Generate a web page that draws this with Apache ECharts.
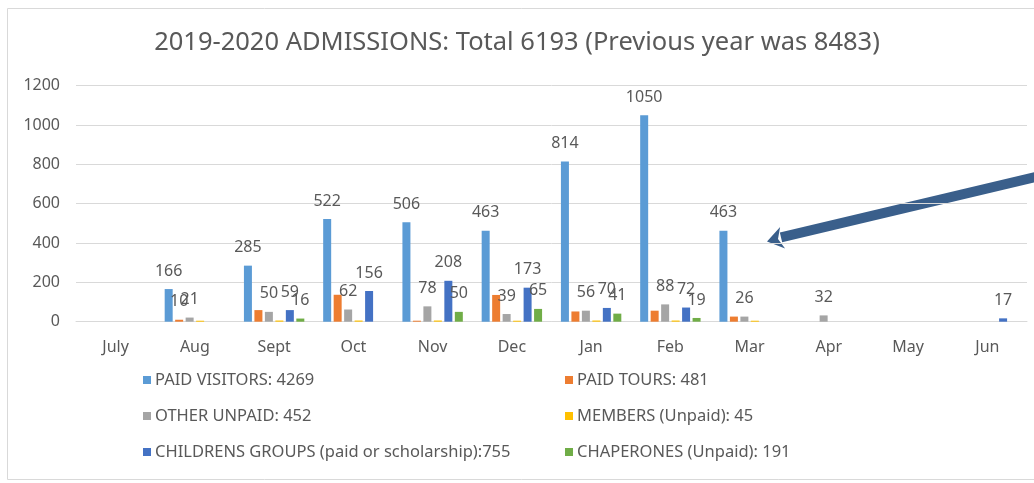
<!DOCTYPE html>
<html>
<head>
<meta charset="utf-8">
<script src="https://cdn.jsdelivr.net/npm/echarts@6/dist/echarts.min.js"></script>
<style>html,body{margin:0;padding:0;background:#fff}#c{width:1034px;height:483px}</style>
</head>
<body>
<div id="c"></div>
<script>
const title = '2019-2020 ADMISSIONS: Total 6193 (Previous year was 8483)';
const months = ['July','Aug','Sept','Oct','Nov','Dec','Jan','Feb','Mar','Apr','May','Jun'];
const yTicks = [0, 200, 400, 600, 800, 1000, 1200];
const seriesNames = [
  'PAID VISITORS: 4269',
  'PAID TOURS: 481',
  'OTHER UNPAID: 452',
  'MEMBERS (Unpaid): 45',
  'CHILDRENS GROUPS (paid or scholarship):755',
  'CHAPERONES (Unpaid): 191'
];
const paidVisitors = [null,166,285,522,506,463,814,1050,463,null,null,null];
const paidTours    = [null,10,59,137,5,136,52,56,26,null,null,null];
const otherUnpaid  = [null,21,50,62,78,39,56,88,26,32,null,null];
const members      = [null,5,6,6,6,5,6,6,5,null,null,null];
const childrens    = [null,null,59,156,208,173,70,72,null,null,null,17];
const chaperones   = [null,null,16,null,50,65,41,19,null,null,null,null];
const toursLabelledMonths = ['Aug'];

const colors = ['#5B9BD5','#ED7D31','#A5A5A5','#FFC000','#4472C4','#70AD47'];
const FONT = 'Noto Sans';
const TXT = '#595959';

const labelCfg = {show:true, position:'top', distance:10, color:TXT, fontFamily:FONT, fontSize:16};

function mk(i, data, showLabel) {
  return {
    name: seriesNames[i], type:'bar', data: data,
    barWidth: 8, barGap: '31%',
    itemStyle:{color:colors[i]},
    label: Object.assign({}, labelCfg, {show: showLabel}),
    emphasis:{disabled:true},
    animation:false
  };
}
const toursData = paidTours.map((v,i)=> toursLabelledMonths.includes(months[i]) && v!=null ? {value:v, label:{show:true}} : v);

const chart = echarts.init(document.getElementById('c'));
const legendText = {color:TXT, fontFamily:FONT, fontSize:16.5, lineHeight:20, padding:[0,0,0,-1]};
chart.setOption({
  animation:false,
  color: colors,
  title:{text:title, left:'center', top:30, padding:0, textStyle:{color:TXT, fontFamily:FONT, fontSize:25.5, fontWeight:'normal'}},
  grid:{left:76, right:7, top:85.7, bottom:161.3, containLabel:false},
  xAxis:{type:'category', data:months,
    axisLine:{lineStyle:{color:'#D9D9D9'}}, axisTick:{show:false},
    axisLabel:{color:TXT, fontFamily:FONT, fontSize:16, margin:18}},
  yAxis:{type:'value', min:yTicks[0], max:yTicks[yTicks.length-1], interval:200,
    axisLine:{show:false}, axisTick:{show:false},
    splitLine:{lineStyle:{color:'#D9D9D9'}},
    axisLabel:{color:TXT, fontFamily:FONT, fontSize:16, margin:16, formatter:(v)=>String(v)}},
  legend:[
    {orient:'vertical', left:143, top:370, padding:0, itemWidth:8, itemHeight:8, itemGap:16, icon:'rect',
      data:[seriesNames[0], seriesNames[2], seriesNames[4]], textStyle:legendText, selectedMode:false},
    {orient:'vertical', left:565, top:370, padding:0, itemWidth:8, itemHeight:8, itemGap:16, icon:'rect',
      data:[seriesNames[1], seriesNames[3], seriesNames[5]], textStyle:legendText, selectedMode:false}
  ],
  graphic:[
    {type:'rect', shape:{x:7.5, y:8.5, width:1100, height:471}, style:{fill:'none', stroke:'#D9D9D9', lineWidth:1}, silent:true},
    {type:'line', shape:{x1:1045, y1:174.7, x2:781, y2:237.3}, style:{stroke:'#3A5F8B', lineWidth:10}, silent:true},
    {type:'polygon', shape:{points:[[767,241.5],[780.1,227.1],[778,239],[785.1,248.5]]}, style:{fill:'#3A5F8B'}, silent:true}
  ],
  series:[
    mk(0, paidVisitors, true),
    mk(1, toursData, false),
    mk(2, otherUnpaid, true),
    mk(3, members, false),
    mk(4, childrens, true),
    mk(5, chaperones, true)
  ]
});
</script>
</body>
</html>
